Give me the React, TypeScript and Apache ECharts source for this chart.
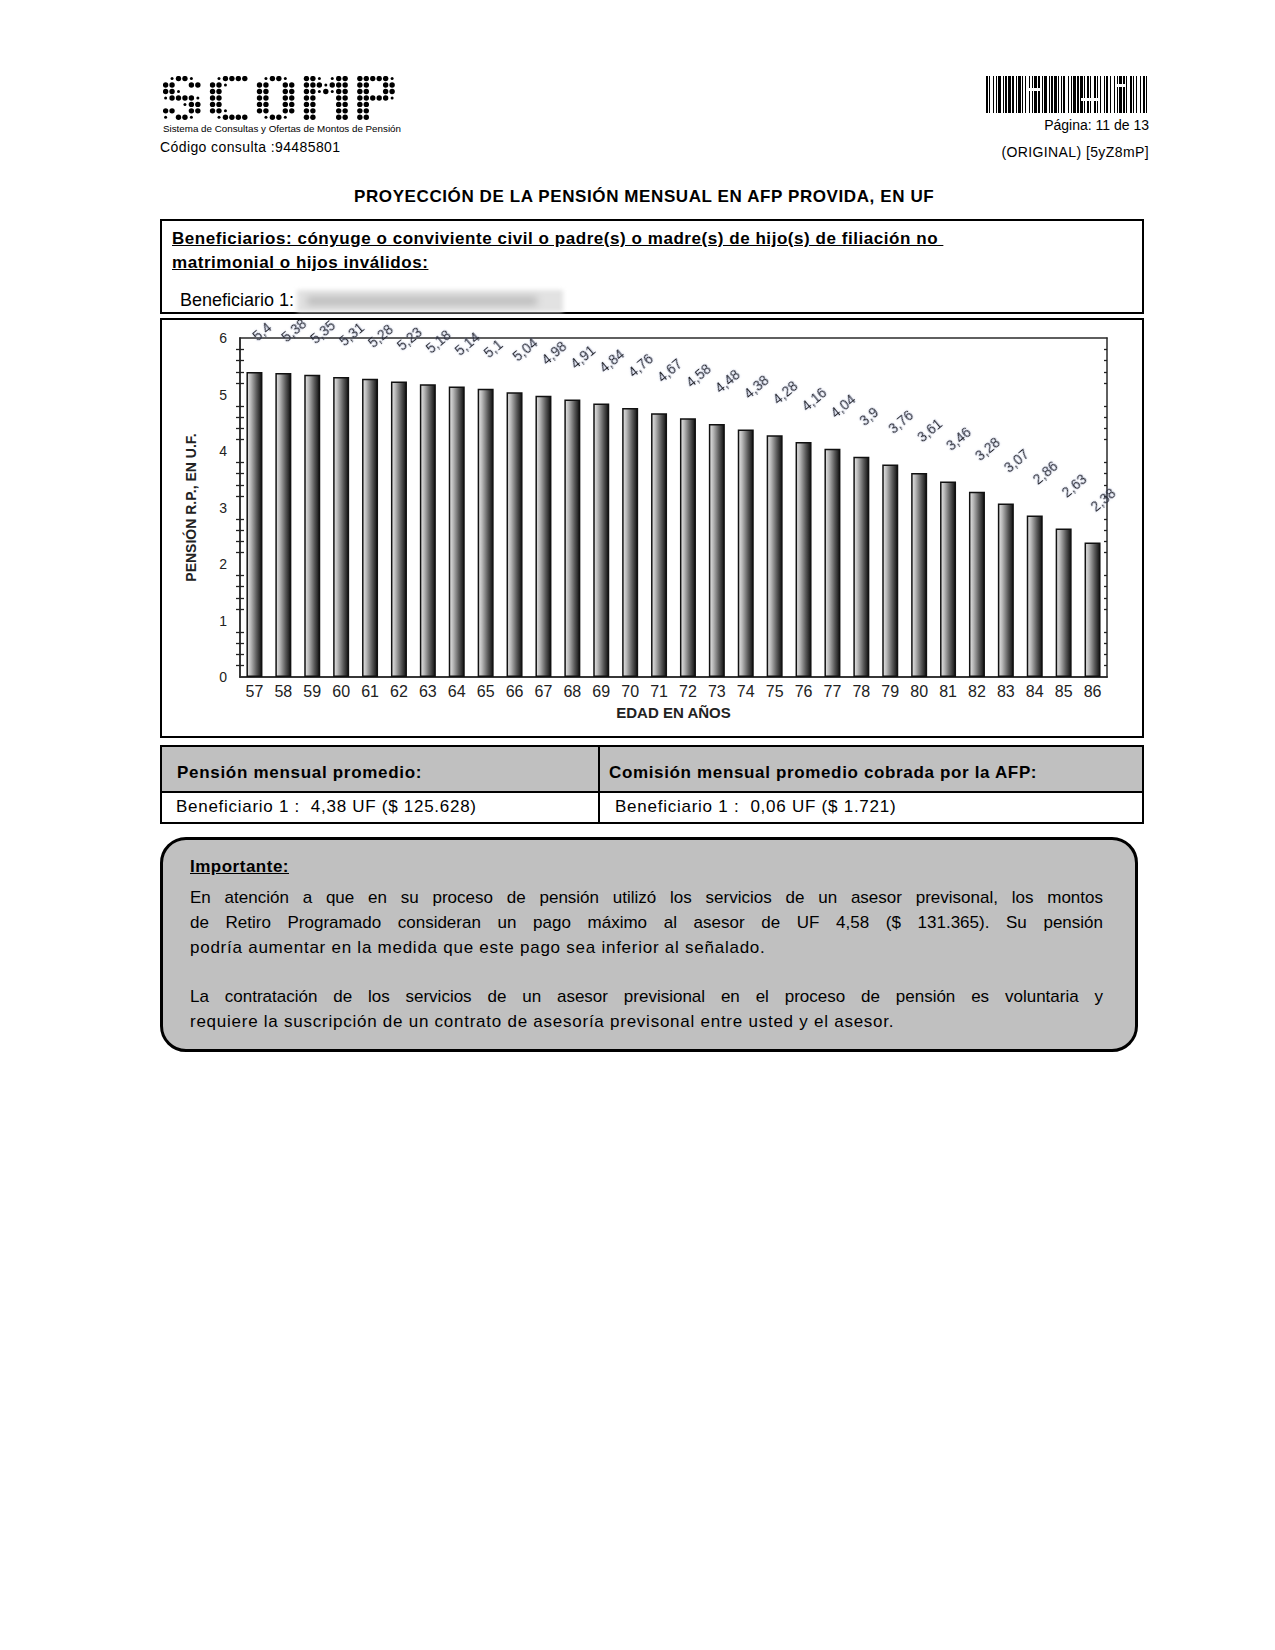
import React, { useEffect, useRef } from 'react';
import * as echarts from 'echarts';

const AGES = ['57', '58', '59', '60', '61', '62', '63', '64', '65', '66', '67', '68', '69', '70', '71', '72', '73', '74', '75', '76', '77', '78', '79', '80', '81', '82', '83', '84', '85', '86'];
const PENSION_UF = [5.4, 5.38, 5.35, 5.31, 5.28, 5.23, 5.18, 5.14, 5.1, 5.04, 4.98, 4.91, 4.84, 4.76, 4.67, 4.58, 4.48, 4.38, 4.28, 4.16, 4.04, 3.9, 3.76, 3.61, 3.46, 3.28, 3.07, 2.86, 2.63, 2.38];
const Y_MIN = 0;
const Y_MAX = 6;
const Y_STEP = 1;

const FONT = '"Liberation Sans", Arial, Helvetica, sans-serif';

const BARCODE = '21131211321121312211311213121131221132112131121123121131213112211321121311221312113121132112131221131121312113211213112213121131211321121312211311213121132112131121231211312131122113211213112213121131211321121312211311213';

// dot-matrix glyphs of the SCOMP logo ('#' big dot, ':' small dot)
const LOGO_GLYPHS: string[][] = [
  ['.:##:.', '##..##', '##:...', ':####:', '...:##', '##..##', ':.##:.'],
  ['.:####', '##:...', '##....', '##....', '##....', '##:...', '.:####'],
  ['.:##:.', '##..##', '##..##', '##..##', '##..##', '##..##', '.:##:.'],
  ['##:.:##', '###:###', '##:#:##', '##...##', '##...##', '##...##', '##...##'],
  ['#####:', '##..##', '##..##', '#####:', '##....', '##....', '##....'],
];

function Logo() {
  const pitch = 6.45;
  const gap = 9.5;
  const dots: React.ReactNode[] = [];
  let x0 = 2.6;
  LOGO_GLYPHS.forEach((g, gi) => {
    g.forEach((row, r) => {
      for (let c = 0; c < row.length; c++) {
        const ch = row[c];
        if (ch === '.') continue;
        dots.push(
          <circle key={`${gi}-${r}-${c}`} cx={x0 + c * pitch} cy={2.6 + r * pitch} r={ch === '#' ? 2.7 : 1.5} fill="#000" />
        );
      }
    });
    x0 += (g[0].length - 1) * pitch + 5.2 + gap;
  });
  return (
    <svg style={{ position: 'absolute', left: 163, top: 76 }} width={240} height={46}>
      {dots}
    </svg>
  );
}

function BarChart() {
  const ref = useRef<HTMLDivElement>(null);
  useEffect(() => {
    const chart = echarts.init(ref.current as HTMLDivElement, null, { renderer: 'svg' });
    const axisLine = { show: true, onZero: false, lineStyle: { color: '#2a2a2a', width: 1.5 } };
    const tickStyle = { color: '#222', width: 1.3 };
    const yBase = {
      type: 'value',
      min: Y_MIN,
      max: Y_MAX,
      interval: Y_STEP,
      splitLine: { show: false },
      axisLine,
    };
    const xBase = { type: 'category', data: AGES, axisLine };
    chart.setOption({
      animation: false,
      textStyle: { fontFamily: FONT },
      grid: { left: 80, right: 37, top: 38, bottom: 61, containLabel: false },
      xAxis: [
        {
          ...xBase,
          position: 'bottom',
          axisTick: { alignWithLabel: true, length: 6, lineStyle: tickStyle },
          axisLabel: { fontSize: 16, color: '#222', margin: 6, fontFamily: FONT },
          name: 'EDAD EN AÑOS',
          nameLocation: 'middle',
          nameGap: 28,
          nameTextStyle: { fontSize: 15, fontWeight: 'bold', color: '#222', fontFamily: FONT },
        },
        {
          ...xBase,
          position: 'bottom',
          axisTick: { inside: true, alignWithLabel: true, length: 6, lineStyle: tickStyle },
          axisLabel: { show: false },
        },
        {
          ...xBase,
          position: 'top',
          axisTick: { inside: true, alignWithLabel: true, length: 6, lineStyle: tickStyle },
          axisLabel: { show: false },
        },
      ],
      yAxis: [
        {
          ...yBase,
          position: 'left',
          axisTick: { length: 6, lineStyle: tickStyle },
          minorTick: { show: true, splitNumber: 5, length: 4, lineStyle: tickStyle },
          axisLabel: { fontSize: 14, color: '#222', margin: 13, fontFamily: FONT },
          name: 'PENSIÓN R.P., EN U.F.',
          nameLocation: 'middle',
          nameGap: 42,
          nameRotate: 90,
          nameTextStyle: { fontSize: 14, fontWeight: 'bold', color: '#222', fontFamily: FONT },
        },
        {
          ...yBase,
          position: 'left',
          axisTick: { inside: true, length: 6, lineStyle: tickStyle },
          minorTick: { show: true, splitNumber: 5, length: 4, lineStyle: tickStyle },
          axisLabel: { show: false },
        },
        {
          ...yBase,
          position: 'right',
          axisTick: { inside: true, length: 6, lineStyle: tickStyle },
          minorTick: { show: true, splitNumber: 5, length: 3, lineStyle: tickStyle },
          axisLabel: { show: false },
        },
      ],
      series: [
        {
          type: 'bar',
          xAxisIndex: 0,
          yAxisIndex: 0,
          data: PENSION_UF,
          barWidth: 16,
          itemStyle: {
            color: new echarts.graphic.LinearGradient(0, 0, 1, 0, [
              { offset: 0, color: '#e6e6e6' },
              { offset: 0.25, color: '#b8b8b8' },
              { offset: 0.65, color: '#5a5a5a' },
              { offset: 1, color: '#101010' },
            ]),
            borderColor: '#111',
            borderWidth: 1.5,
          },
          label: {
            show: true,
            position: 'top',
            distance: 34,
            rotate: 40,
            align: 'left',
            verticalAlign: 'middle',
            fontSize: 14,
            color: '#262626',
            fontFamily: FONT,
            textShadowColor: 'rgba(110,130,200,0.35)',
            textShadowBlur: 2,
            formatter: (p: any) => String(p.value).replace('.', ','),
          },
        },
      ],
    });
    return () => chart.dispose();
  }, []);
  return <div ref={ref} style={{ position: 'absolute', left: 160, top: 300, width: 984, height: 438 }} />;
}

function Barcode() {
  const bars: React.ReactNode[] = [];
  let x = 0;
  for (let i = 0; i < BARCODE.length && x < 163; i++) {
    const w = Number(BARCODE[i]);
    if (i % 2 === 0) {
      bars.push(<div key={i} style={{ position: 'absolute', left: x, top: 0, width: w, height: 37, background: '#000' }} />);
    }
    x += w;
  }
  return (
    <div style={{ position: 'absolute', left: 986, top: 76, width: 163, height: 37, overflow: 'hidden' }}>
      {bars}
      <div style={{ position: 'absolute', left: 40, top: 12, width: 14, height: 3, background: '#fff' }} />
      <div style={{ position: 'absolute', left: 95, top: 22, width: 18, height: 3, background: '#fff' }} />
      <div style={{ position: 'absolute', left: 130, top: 8, width: 10, height: 3, background: '#fff' }} />
    </div>
  );
}

const abs = (left: number, top: number, extra: React.CSSProperties = {}): React.CSSProperties => ({
  position: 'absolute',
  left,
  top,
  ...extra,
});

function JLine({ top, text, last }: { top: number; text: string; last?: boolean }) {
  return (
    <div
      style={abs(190, top, {
        width: 913,
        fontSize: 17,
        lineHeight: '25px',
        letterSpacing: last ? 0.75 : 0,
        textAlign: last ? 'left' : 'justify',
        textAlignLast: last ? 'left' : 'justify',
        whiteSpace: 'nowrap',
      } as React.CSSProperties)}
    >
      {text}
    </div>
  );
}

export default function App() {
  return (
    <div
      style={{
        position: 'absolute',
        left: 0,
        top: 0,
        width: 1275,
        height: 1650,
        background: '#fff',
        fontFamily: FONT,
        color: '#000',
        overflow: 'hidden',
      }}
    >
      <Logo />
      <div style={abs(163, 123, { fontSize: 9.8, lineHeight: '12px', whiteSpace: 'nowrap' })}>
        Sistema de Consultas y Ofertas de Montos de Pensión
      </div>
      <div style={abs(160, 138, { fontSize: 14, letterSpacing: 0.4, lineHeight: '18px', whiteSpace: 'nowrap' })}>Código consulta :94485801</div>

      <Barcode />
      <div style={abs(949, 116, { width: 200, textAlign: 'right', fontSize: 14, lineHeight: '18px' })}>Página: 11 de 13</div>
      <div style={abs(899, 143, { width: 250, textAlign: 'right', fontSize: 14, letterSpacing: 0.4, lineHeight: '18px' })}>(ORIGINAL) [5yZ8mP]</div>

      <div style={abs(354, 187, { fontSize: 17, letterSpacing: 0.6, fontWeight: 'bold', lineHeight: '20px', whiteSpace: 'nowrap' })}>
        PROYECCIÓN DE LA PENSIÓN MENSUAL EN AFP PROVIDA, EN UF
      </div>

      {/* Beneficiarios box */}
      <div style={abs(160, 219, { width: 984, height: 95, border: '2px solid #000', boxSizing: 'border-box' })} />
      <div style={abs(172, 229, { fontSize: 17, letterSpacing: 0.55, fontWeight: 'bold', textDecoration: 'underline', lineHeight: '20px', whiteSpace: 'pre' })}>
        {'Beneficiarios: cónyuge o conviviente civil o padre(s) o madre(s) de hijo(s) de filiación no '}
      </div>
      <div style={abs(172, 253, { fontSize: 17, letterSpacing: 0.55, fontWeight: 'bold', textDecoration: 'underline', lineHeight: '20px', whiteSpace: 'pre' })}>
        matrimonial o hijos inválidos:
      </div>
      <div style={abs(180, 289, { fontSize: 18, lineHeight: '22px', whiteSpace: 'pre' })}>Beneficiario 1:</div>
      <div style={abs(297, 290, { width: 266, height: 22, background: '#e2e2e2', filter: 'blur(2px)' })}>
        <div style={{ position: 'absolute', left: 10, top: 7, width: 230, height: 8, background: '#b9b9b9', filter: 'blur(3px)' }} />
      </div>

      {/* Chart */}
      <BarChart />
      <div style={abs(160, 318, { width: 984, height: 420, border: '2px solid #000', boxSizing: 'border-box', pointerEvents: 'none' })} />

      {/* Table */}
      <div style={abs(160, 745, { width: 984, height: 47, background: '#c0c0c0' })} />
      <div style={abs(160, 745, { width: 984, height: 79, border: '2px solid #000', boxSizing: 'border-box' })} />
      <div style={abs(160, 791, { width: 984, height: 2, background: '#000' })} />
      <div style={abs(598, 745, { width: 2, height: 79, background: '#000' })} />
      <div style={abs(177, 763, { fontSize: 17, letterSpacing: 0.7, fontWeight: 'bold', lineHeight: '20px', whiteSpace: 'pre' })}>Pensión mensual promedio:</div>
      <div style={abs(609, 763, { fontSize: 17, letterSpacing: 0.65, fontWeight: 'bold', lineHeight: '20px', whiteSpace: 'pre' })}>
        Comisión mensual promedio cobrada por la AFP:
      </div>
      <div style={abs(176, 797, { fontSize: 17, letterSpacing: 0.72, lineHeight: '20px', whiteSpace: 'pre' })}>{'Beneficiario 1 :  4,38 UF ($ 125.628)'}</div>
      <div style={abs(615, 797, { fontSize: 17, letterSpacing: 0.75, lineHeight: '20px', whiteSpace: 'pre' })}>{'Beneficiario 1 :  0,06 UF ($ 1.721)'}</div>

      {/* Importante box */}
      <div
        style={abs(160, 837, {
          width: 978,
          height: 215,
          background: '#c0c0c0',
          border: '3px solid #000',
          borderRadius: 26,
          boxSizing: 'border-box',
        })}
      />
      <div style={abs(190, 856, { fontSize: 17, letterSpacing: 0.5, fontWeight: 'bold', textDecoration: 'underline', lineHeight: '22px' })}>Importante:</div>
      <JLine top={885} text="En atención a que en su proceso de pensión utilizó los servicios de un asesor previsonal, los montos" />
      <JLine top={910} text="de Retiro Programado consideran un pago máximo al asesor de UF 4,58 ($ 131.365). Su pensión" />
      <JLine top={935} text="podría aumentar en la medida que este pago sea inferior al señalado." last />
      <JLine top={984} text="La contratación de los servicios de un asesor previsional en el proceso de pensión es voluntaria y" />
      <JLine top={1009} text="requiere la suscripción de un contrato de asesoría previsonal entre usted y el asesor." last />
    </div>
  );
}
